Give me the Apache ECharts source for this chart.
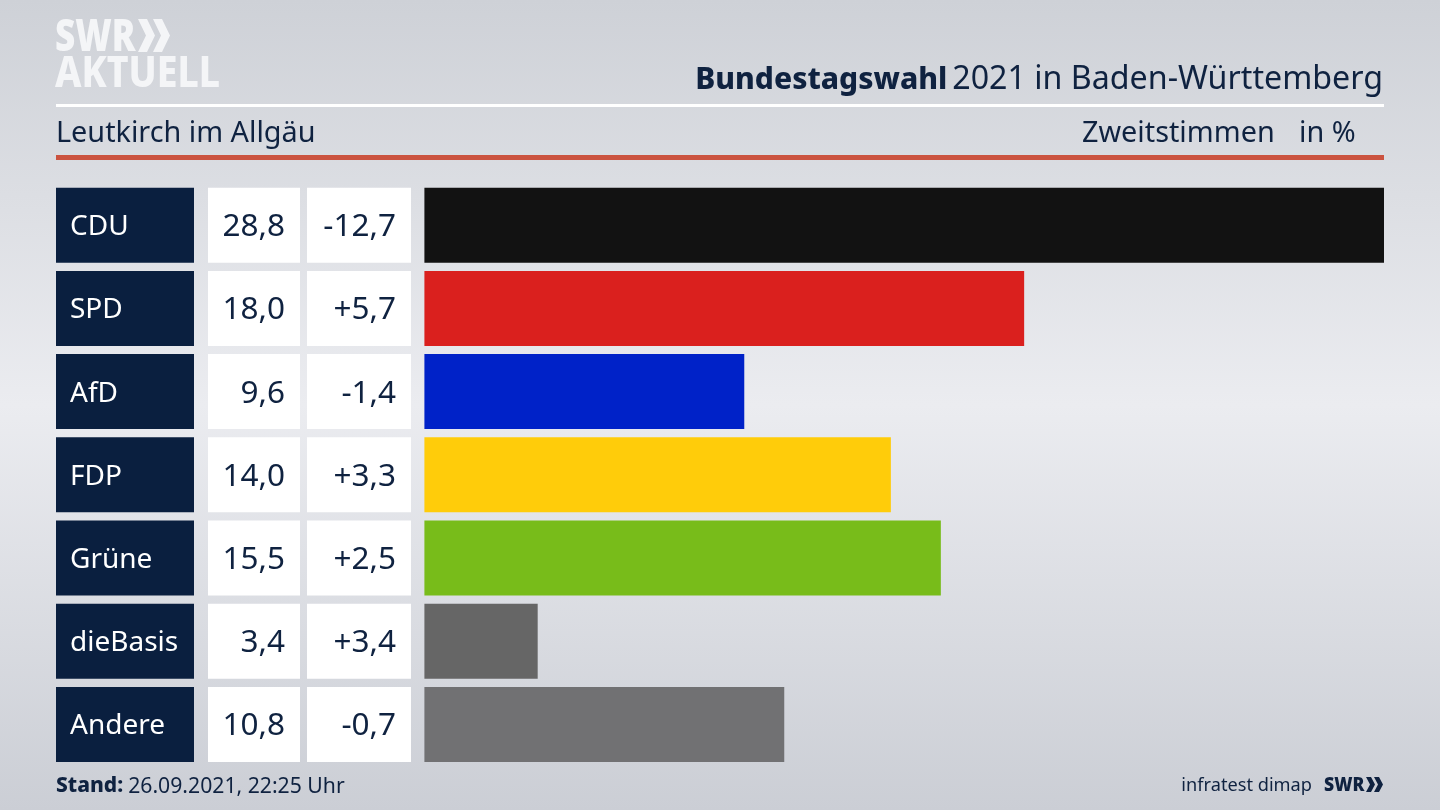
<!DOCTYPE html>
<html><head><meta charset="utf-8">
<style>html,body{margin:0;padding:0;background:#dfe1e6}#c{width:1440px;height:810px}</style>
<script src="https://cdn.jsdelivr.net/npm/echarts@6/dist/echarts.min.js"></script>
</head><body><div id="c"></div>
<script>
const parties = ['CDU','SPD','AfD','FDP','Grüne','dieBasis','Andere'];
const shares = [28.8,18.0,9.6,14.0,15.5,3.4,10.8];
const changes = ['-12,7','+5,7','-1,4','+3,3','+2,5','+3,4','-0,7'];
const colors = ['#121212','#da201e','#0022c8','#ffcc0a','#78bc1a','#666666','#717173'];
const navy = '#0a1f3f', ink = '#0f2240', font = '"Noto Sans"';
const fmt = v => v.toFixed(1).replace('.', ',');
const gridTop = 183.6, gridH = 582.4, bw = 75;
const cols = [{left:56,width:138},{left:208,width:92},{left:307,width:104},{left:424.4,width:959.6}];
const grids = cols.map(c => ({left:c.left,width:c.width,top:gridTop,height:gridH}));
const xAxes = cols.map((c,i) => ({gridIndex:i,type:'value',min:0,max:i===3?28.8:1,show:false}));
const yAxes = cols.map((c,i) => ({gridIndex:i,type:'category',data:parties,inverse:true,show:false}));
const cell = (i,color,lab) => ({
  type:'bar',xAxisIndex:i,yAxisIndex:i,barWidth:bw,silent:true,animation:false,
  data:parties.map(() => 1),itemStyle:{color:color},
  label:Object.assign({show:true,fontFamily:font,fontSize:31.5,offset:[0,2]},lab)
});
const chev = (x,y,w,s,t,fill) => ({type:'polygon',shape:{points:[[x,y],[x+t,y],[x+w,y+s/2],[x+t,y+s],[x,y+s],[x+w-t,y+s/2]]},style:{fill}});
const titleText = (text,left,top,size) => ({text,left,top,padding:0,textStyle:{fontFamily:font,fontSize:size,fontWeight:400,color:ink}});
const chart = echarts.init(document.getElementById('c'),null,{renderer:'canvas'});
chart.setOption({
  animation:false,
  backgroundColor:{type:'linear',x:0,y:0,x2:0,y2:1,colorStops:[
    {offset:0,color:'#ced1d7'},{offset:0.5,color:'#ebecf0'},{offset:1,color:'#cbced5'}]},
  grid:grids,xAxis:xAxes,yAxis:yAxes,
  title:[
    {text:'{b|Bundestagswahl} {r|2021 in Baden-Württemberg}',right:57,top:64,padding:0,
     textStyle:{fontWeight:400,rich:{b:{fontFamily:font,fontSize:30,fontWeight:800,color:ink},r:{fontFamily:font,fontSize:32.2,fontWeight:400,color:ink}}}},
    titleText('Leutkirch im Allgäu',56,119,28.8),
    titleText('Zweitstimmen',1082,119,28.8),
    titleText('in %',1299,119,28.8),
    {text:'{b|Stand:} {r|26.09.2021, 22:25 Uhr}',left:56,top:776,padding:0,
     textStyle:{fontWeight:400,rich:{b:{fontFamily:font,fontSize:21,fontWeight:800,color:ink},r:{fontFamily:font,fontSize:21.2,fontWeight:400,color:ink}}}},
    Object.assign(titleText('infratest dimap',undefined,777,18.2),{right:128})
  ],
  series:[
    cell(0,navy,{position:'insideLeft',distance:14,color:'#fff',fontSize:28,formatter:p => parties[p.dataIndex]}),
    cell(1,'#fff',{position:'insideRight',distance:15,color:ink,formatter:p => fmt(shares[p.dataIndex])}),
    cell(2,'#fff',{position:'insideRight',distance:15,color:ink,formatter:p => changes[p.dataIndex]}),
    {type:'bar',xAxisIndex:3,yAxisIndex:3,barWidth:bw,silent:true,animation:false,
     data:shares.map((v,i) => ({value:v,itemStyle:{color:colors[i]}}))}
  ],
  graphic:[
    {type:'rect',shape:{x:56,y:104,width:1328,height:3},style:{fill:'#ffffff'}},
    {type:'rect',shape:{x:56,y:155,width:1328,height:5},style:{fill:'#cb5340'}},
    {type:'text',x:55,y:16,scaleX:0.78,style:{text:'SWR',fontFamily:font,fontSize:45,fontWeight:900,fill:'#f4f5f7'}},
    chev(138,19,17,33,9,'#f4f5f7'),chev(153,19,17,33,9,'#f4f5f7'),
    {type:'text',x:55,y:54,scaleX:0.89,style:{text:'AKTUELL',fontFamily:font,fontSize:42,fontWeight:800,fill:'#f4f5f7'}},
    {type:'text',x:1324,y:775,scaleX:0.88,style:{text:'SWR',fontFamily:font,fontSize:20,fontWeight:900,fill:ink}},
    chev(1366,777,9,15,5,ink),chev(1374,777,9,15,5,ink)
  ]
});
</script></body></html>
